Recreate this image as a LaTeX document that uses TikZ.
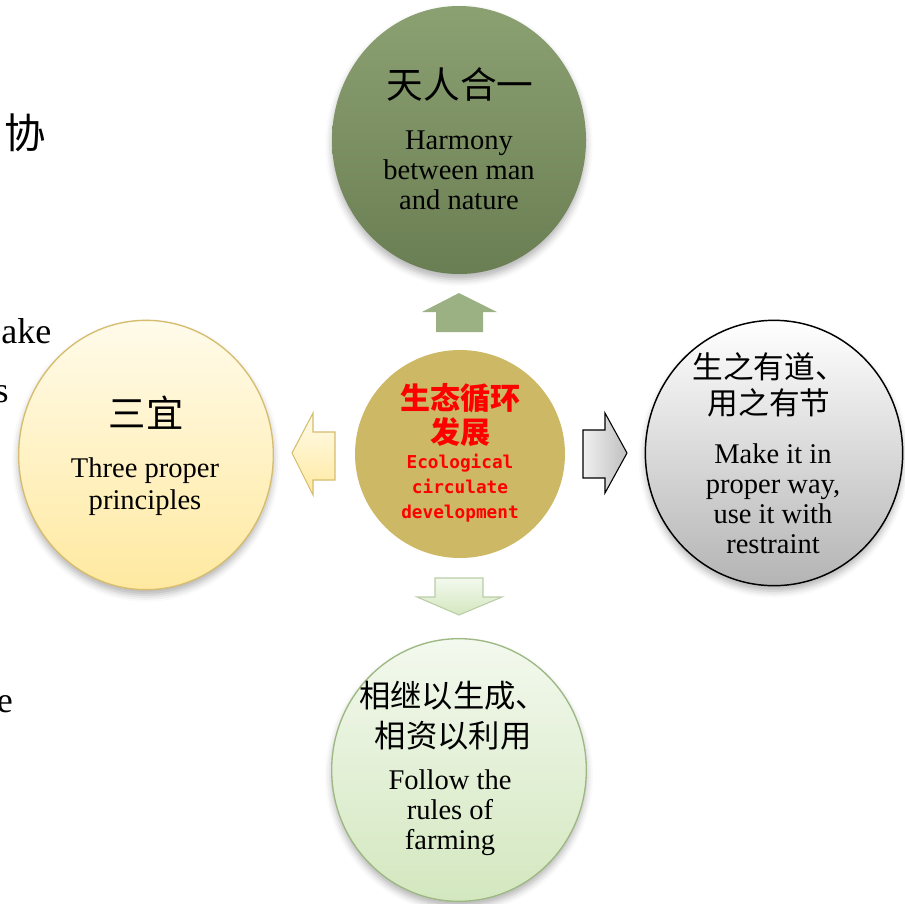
\documentclass[tikz,border=0pt]{standalone}
\usepackage{fontspec}
\setmainfont{Liberation Serif}
\newfontfamily\cjk{Noto Sans CJK SC}
\newfontfamily\monof{DejaVu Sans Mono}
\usetikzlibrary{shapes.geometric,shadows.blur}
\definecolor{topA}{HTML}{8CA172}
\definecolor{topB}{HTML}{6A7E53}
\definecolor{yelA}{HTML}{FFFBEA}
\definecolor{yelB}{HTML}{FFE9A0}
\definecolor{yelE}{HTML}{D6BC6E}
\definecolor{grnA}{HTML}{F3F9EE}
\definecolor{grnB}{HTML}{D3E7BF}
\definecolor{grnE}{HTML}{9DB882}
\definecolor{grayB}{HTML}{B4B4B4}
\definecolor{midC}{HTML}{CDB865}
\definecolor{upC}{HTML}{9CB183}
\definecolor{redT}{HTML}{FF0000}
\begin{document}
\begin{tikzpicture}[x=0.75pt,y=-0.75pt]
\useasboundingbox (0,0) rectangle (905,903);
\clip (0,0) rectangle (905,903);
\tikzset{
  bubble/.style={ellipse, inner sep=0pt,
    blur shadow={shadow xshift=0pt, shadow yshift=-4pt, shadow blur radius=5pt, shadow opacity=30}},
  hanzi/.style={font={\cjk\fontsize{#1}{#1}\selectfont}, align=center, inner sep=0pt},
  engl/.style={font={\fontsize{21.4pt}{22.5pt}\selectfont}, align=center, inner sep=0pt},
  fragtext/.style={font={\fontsize{27pt}{32pt}\selectfont}, inner sep=0pt},
  blockarrow/.style={line width=0.8pt, line join=miter}
}
% side text fragments
\node[hanzi=31pt, anchor=west] (fragA) at (4,133) {协};
\node[fragtext, anchor=base west] (fragB) at (1,343) {ake};
\node[fragtext, anchor=base east] (fragC) at (9,402) {s};
\node[fragtext, anchor=base east] (fragD) at (13,712) {e};

% circles
\node[bubble, minimum width=190.5pt, minimum height=201pt, top color=topA, bottom color=topB] (top) at (459,140) {};
\node[bubble, minimum width=191pt, minimum height=202pt, top color=yelA, bottom color=yelB, draw=yelE, line width=1pt] (left) at (146,455) {};
\node[bubble, minimum width=193pt, minimum height=199pt, top color=white, bottom color=grayB, draw=black, line width=1.1pt] (right) at (774,453) {};
\node[bubble, minimum width=191pt, minimum height=197pt, top color=grnA, bottom color=grnB, draw=grnE, line width=1pt] (bottom) at (459,770) {};
\node[ellipse, inner sep=0pt, minimum width=157.5pt, minimum height=156pt, fill=midC] (center) at (460,454) {};

% block arrows
\fill[upC] (459,293) -- (497,312) -- (483,312) -- (483,332) -- (436,332) -- (436,312) -- (422,312) -- cycle;
\draw[blockarrow, draw=grnE!70, top color=grnA, bottom color=grnB] (435,578) -- (483,578) -- (483,597) -- (502,597) -- (459,615) -- (417,597) -- (435,597) -- cycle;
\draw[blockarrow, draw=yelE, top color=yelA, bottom color=yelB] (292,453) -- (313,413) -- (313,432) -- (335,432) -- (335,480) -- (313,480) -- (313,495) -- cycle;
\draw[blockarrow, draw=black, left color=gray!12, right color=gray!50] (627,453) -- (605,413) -- (605,430) -- (583,430) -- (583,478) -- (605,478) -- (605,493) -- cycle;

% texts
\node[hanzi=27.5pt] (topZ) at (460,84) {天人合一};
\node[engl] (topE) at (459,170) {Harmony\\between man\\and nature};

\node[hanzi=28pt] (leftZ) at (146,413) {三宜};
\node[engl, font={\fontsize{21.4pt}{24pt}\selectfont}] (leftE) at (145,487) {Three proper\\principles};

\node[font={\cjk\fontsize{23pt}{27pt}\selectfont}, align=center, inner sep=0pt] (rightZ) at (769,385) {生之有道、\\用之有节};
\node[engl] (rightE) at (773,499) {Make it in\\proper way,\\use it with\\restraint};

\node[font={\cjk\fontsize{23.5pt}{30pt}\selectfont}, align=center, inner sep=0pt] (bottomZ) at (453,716) {相继以生成、\\相资以利用};
\node[engl] (bottomE) at (450,813) {Follow the\\rules of\\farming};

\node[font={\cjk\bfseries\fontsize{22.5pt}{26pt}\selectfont}, text=redT, align=center, inner sep=0pt] (centerZ) at (460,415) {生态循环\\发展};
\node[font={\monof\bfseries\fontsize{13.3pt}{18.75pt}\selectfont}, text=redT, align=center, inner sep=0pt] (centerE) at (460,488) {Ecological\\circulate\\development};
\end{tikzpicture}
\end{document}
